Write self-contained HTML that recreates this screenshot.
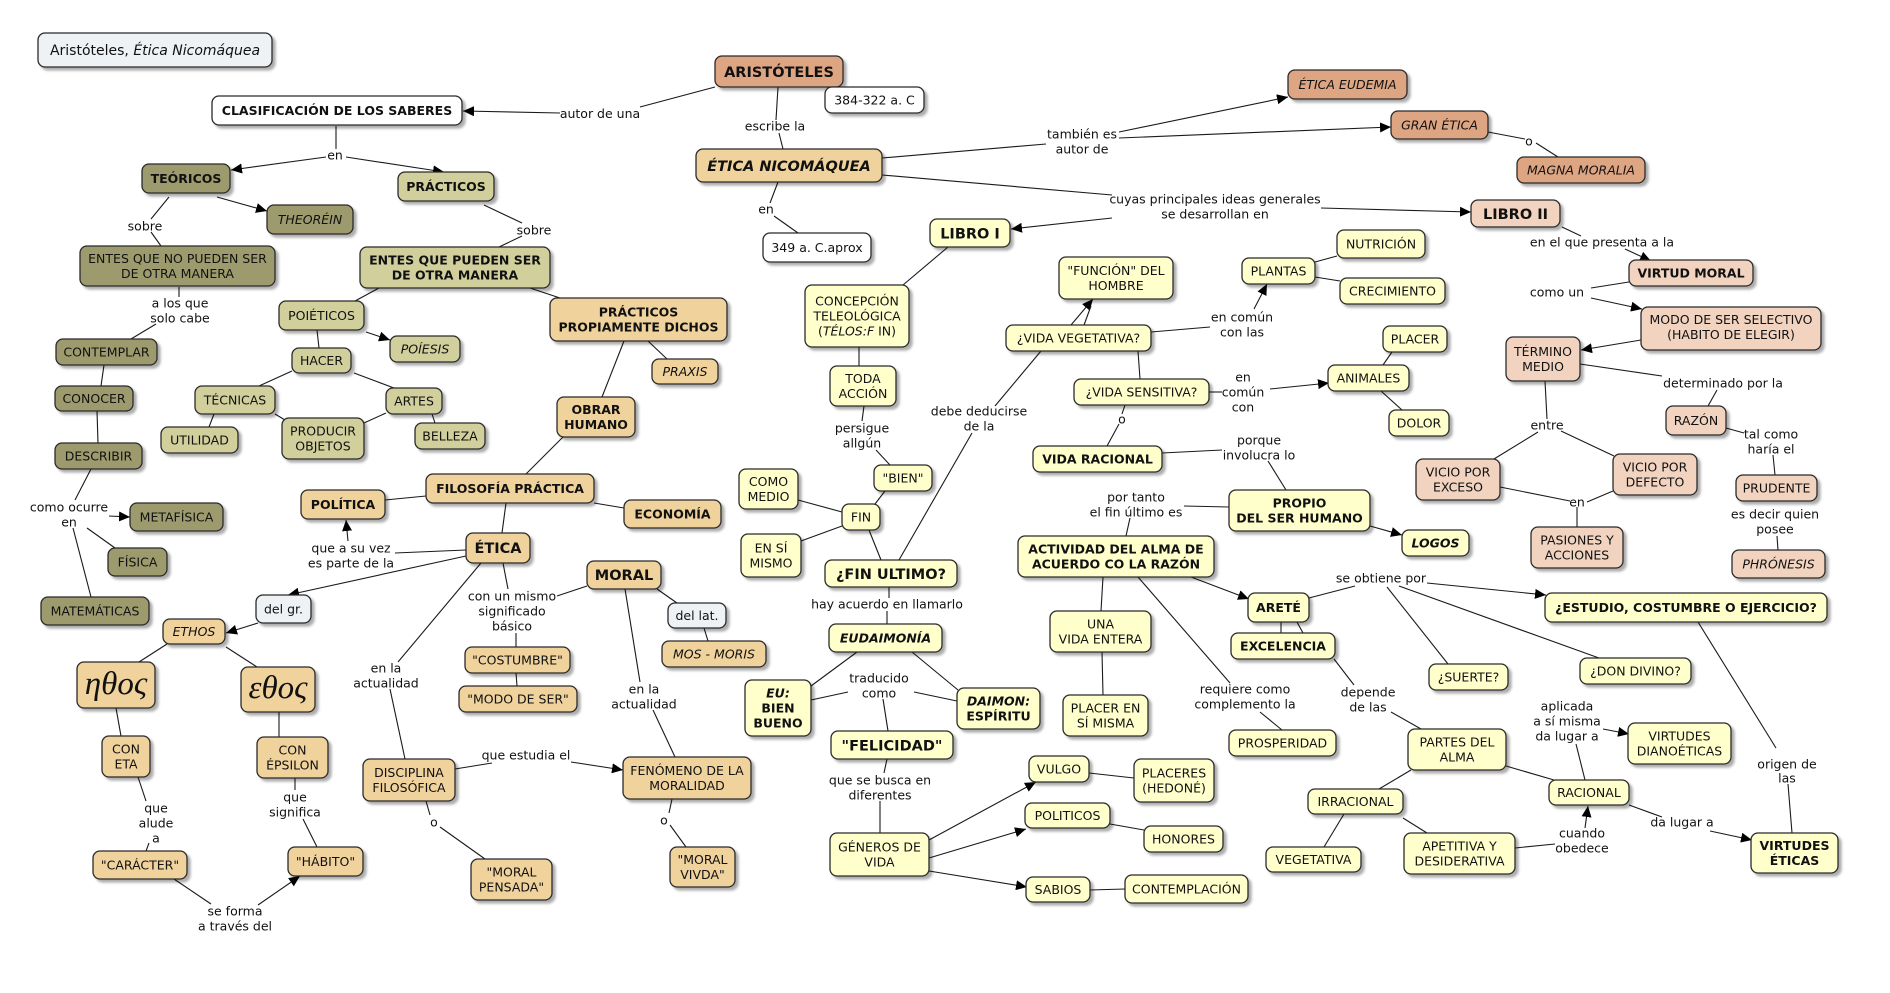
<!DOCTYPE html>
<html><head><meta charset="utf-8">
<style>
html,body{margin:0;padding:0;background:#fff;}
svg{display:block;}
text{font-family:"DejaVu Sans",Verdana,"Liberation Sans",sans-serif;font-size:12.5px;text-anchor:middle;fill:#111;}
.b{font-weight:bold;}
.i{font-style:italic;}
.L{font-size:14.5px;}
.g{font-family:"Liberation Serif","DejaVu Serif",serif;font-style:italic;font-size:33px;}
rect{stroke:#2a2a2a;stroke-width:1.3;}
.dol{fill:#9d9b6d}.lol{fill:#d1d09c}.tan{fill:#f0d29c}.sal{fill:#dea583}.lsa{fill:#f1d3bf}.yel{fill:#ffffcc}.wht{fill:#fff}.gry{fill:#eef2f5}
line{stroke:#1a1a1a;stroke-width:1.1;}
.a{marker-end:url(#ar);}
</style></head><body>
<svg width="1890" height="993" viewBox="0 0 1890 993" xmlns="http://www.w3.org/2000/svg">
<defs>
<filter id="sh" x="-10%" y="-20%" width="130%" height="160%"><feDropShadow dx="3" dy="3" stdDeviation="1.3" flood-color="#000" flood-opacity="0.32"/></filter>
<marker id="ar" markerUnits="userSpaceOnUse" markerWidth="12" markerHeight="10" refX="11" refY="5" orient="auto"><path d="M0,0 L11,5 L0,10 z" fill="#000"/></marker>
</defs>

<!-- connectors -->
<g>
<line x1="715" y1="87" x2="640" y2="107"/>
<line class="a" x1="560" y1="113" x2="463" y2="111"/>
<line x1="336" y1="126" x2="336" y2="149"/>
<line class="a" x1="326" y1="157" x2="231" y2="170"/>
<line class="a" x1="346" y1="157" x2="444" y2="172"/>
<line class="a" x1="217" y1="197" x2="267" y2="211"/>
<line x1="169" y1="197" x2="151" y2="219"/>
<line x1="151" y1="232" x2="161" y2="246"/>
<line x1="484" y1="205" x2="522" y2="223"/>
<line x1="522" y1="236" x2="499" y2="247"/>
<line x1="179" y1="287" x2="179" y2="297"/>
<line x1="156" y1="324" x2="131" y2="339"/>
<line x1="379" y1="288" x2="355" y2="301"/>
<line x1="530" y1="288" x2="560" y2="298"/>
<line class="a" x1="366" y1="332" x2="390" y2="340"/>
<line x1="317" y1="330" x2="319" y2="348"/>
<line x1="292" y1="371" x2="259" y2="386"/>
<line x1="354" y1="373" x2="394" y2="388"/>
<line x1="214" y1="414" x2="209" y2="427"/>
<line x1="275" y1="414" x2="285" y2="420"/>
<line x1="386" y1="413" x2="364" y2="423"/>
<line x1="432" y1="414" x2="435" y2="423"/>
<line x1="104" y1="365" x2="101" y2="386"/>
<line x1="97" y1="411" x2="98" y2="443"/>
<line x1="91" y1="469" x2="75" y2="500"/>
<line class="a" x1="109" y1="516" x2="130" y2="517"/>
<line x1="87" y1="528" x2="115" y2="548"/>
<line x1="73" y1="528" x2="91" y2="597"/>
<line x1="624" y1="341" x2="602" y2="397"/>
<line x1="648" y1="341" x2="667" y2="359"/>
<line x1="563" y1="437" x2="526" y2="474"/>
<line x1="426" y1="496" x2="385" y2="500"/>
<line x1="594" y1="503" x2="624" y2="508"/>
<line x1="506" y1="503" x2="502" y2="533"/>
<line x1="466" y1="550" x2="395" y2="553"/>
<line class="a" x1="348" y1="541" x2="346" y2="520"/>
<line class="a" x1="466" y1="556" x2="288" y2="595"/>
<line class="a" x1="258" y1="623" x2="226" y2="633"/>
<line x1="167" y1="644" x2="139" y2="662"/>
<line x1="226" y1="647" x2="257" y2="667"/>
<line x1="116" y1="708" x2="121" y2="736"/>
<line x1="279" y1="712" x2="279" y2="737"/>
<line x1="138" y1="777" x2="146" y2="801"/>
<line x1="149" y1="843" x2="146" y2="851"/>
<line x1="295" y1="778" x2="295" y2="790"/>
<line x1="303" y1="819" x2="317" y2="847"/>
<line x1="174" y1="879" x2="211" y2="904"/>
<line class="a" x1="258" y1="905" x2="300" y2="876"/>
<line x1="481" y1="563" x2="398" y2="662"/>
<line x1="390" y1="689" x2="405" y2="759"/>
<line x1="503" y1="563" x2="508" y2="589"/>
<line x1="587" y1="586" x2="557" y2="596"/>
<line x1="516" y1="633" x2="516" y2="647"/>
<line x1="516" y1="673" x2="517" y2="686"/>
<line x1="455" y1="769" x2="492" y2="763"/>
<line class="a" x1="571" y1="762" x2="623" y2="770"/>
<line x1="426" y1="801" x2="430" y2="815"/>
<line x1="440" y1="827" x2="485" y2="859"/>
<line x1="625" y1="589" x2="640" y2="682"/>
<line x1="653" y1="710" x2="675" y2="757"/>
<line x1="672" y1="799" x2="669" y2="813"/>
<line x1="670" y1="825" x2="686" y2="847"/>
<line x1="657" y1="589" x2="677" y2="603"/>
<line x1="704" y1="628" x2="708" y2="641"/>
<line x1="778" y1="87" x2="776" y2="120"/>
<line x1="779" y1="133" x2="783" y2="149"/>
<line x1="778" y1="182" x2="770" y2="203"/>
<line x1="774" y1="216" x2="798" y2="233"/>
<line x1="882" y1="158" x2="1046" y2="144"/>
<line class="a" x1="1119" y1="132" x2="1288" y2="97"/>
<line class="a" x1="1119" y1="138" x2="1391" y2="127"/>
<line x1="1488" y1="132" x2="1525" y2="139"/>
<line x1="1536" y1="143" x2="1558" y2="157"/>
<line x1="882" y1="175" x2="1112" y2="195"/>
<line class="a" x1="1112" y1="218" x2="1011" y2="229"/>
<line class="a" x1="1321" y1="208" x2="1471" y2="212"/>
<line x1="1562" y1="227" x2="1581" y2="236"/>
<line class="a" x1="1625" y1="249" x2="1651" y2="261"/>
<line x1="1629" y1="282" x2="1591" y2="288"/>
<line class="a" x1="1591" y1="298" x2="1642" y2="309"/>
<line class="a" x1="1641" y1="340" x2="1581" y2="350"/>
<line x1="1580" y1="364" x2="1662" y2="376"/>
<line x1="1717" y1="390" x2="1708" y2="406"/>
<line x1="1726" y1="428" x2="1744" y2="433"/>
<line x1="1773" y1="455" x2="1775" y2="475"/>
<line x1="1777" y1="536" x2="1778" y2="550"/>
<line x1="1545" y1="381" x2="1547" y2="419"/>
<line x1="1538" y1="432" x2="1494" y2="459"/>
<line x1="1561" y1="431" x2="1614" y2="456"/>
<line x1="1500" y1="487" x2="1570" y2="501"/>
<line x1="1613" y1="491" x2="1587" y2="502"/>
<line x1="1577" y1="507" x2="1577" y2="527"/>
<line x1="948" y1="247" x2="903" y2="285"/>
<line x1="859" y1="347" x2="859" y2="366"/>
<line x1="864" y1="406" x2="862" y2="421"/>
<line x1="876" y1="450" x2="890" y2="465"/>
<line x1="885" y1="491" x2="875" y2="504"/>
<line x1="842" y1="512" x2="798" y2="500"/>
<line x1="842" y1="526" x2="801" y2="541"/>
<line x1="869" y1="530" x2="881" y2="560"/>
<line x1="1041" y1="351" x2="995" y2="406"/>
<line x1="972" y1="433" x2="899" y2="560"/>
<line x1="889" y1="587" x2="889" y2="598"/>
<line x1="887" y1="611" x2="887" y2="624"/>
<line x1="857" y1="652" x2="811" y2="686"/>
<line x1="912" y1="652" x2="958" y2="690"/>
<line x1="848" y1="692" x2="811" y2="700"/>
<line x1="914" y1="692" x2="957" y2="701"/>
<line x1="883" y1="699" x2="888" y2="731"/>
<line x1="887" y1="759" x2="884" y2="773"/>
<line x1="880" y1="801" x2="880" y2="833"/>
<line class="a" x1="929" y1="840" x2="1036" y2="782"/>
<line class="a" x1="929" y1="858" x2="1026" y2="829"/>
<line class="a" x1="929" y1="871" x2="1027" y2="887"/>
<line x1="1089" y1="773" x2="1134" y2="778"/>
<line x1="1110" y1="824" x2="1144" y2="830"/>
<line x1="1090" y1="890" x2="1125" y2="889"/>
<line class="a" x1="1071" y1="325" x2="1093" y2="299"/>
<line x1="1084" y1="325" x2="1091" y2="306"/>
<line x1="1151" y1="332" x2="1210" y2="327"/>
<line class="a" x1="1254" y1="309" x2="1267" y2="284"/>
<line x1="1315" y1="262" x2="1337" y2="256"/>
<line x1="1315" y1="277" x2="1340" y2="281"/>
<line x1="1138" y1="351" x2="1140" y2="379"/>
<line x1="1209" y1="392" x2="1222" y2="392"/>
<line class="a" x1="1270" y1="389" x2="1329" y2="383"/>
<line x1="1383" y1="365" x2="1392" y2="352"/>
<line x1="1381" y1="391" x2="1402" y2="410"/>
<line x1="1125" y1="405" x2="1122" y2="414"/>
<line x1="1119" y1="424" x2="1107" y2="446"/>
<line x1="1162" y1="453" x2="1222" y2="450"/>
<line x1="1268" y1="461" x2="1286" y2="490"/>
<line x1="1184" y1="506" x2="1229" y2="507"/>
<line x1="1130" y1="518" x2="1126" y2="536"/>
<line class="a" x1="1370" y1="526" x2="1402" y2="535"/>
<line class="a" x1="1191" y1="577" x2="1249" y2="599"/>
<line x1="1103" y1="577" x2="1101" y2="611"/>
<line x1="1102" y1="652" x2="1103" y2="695"/>
<line x1="1138" y1="577" x2="1230" y2="683"/>
<line x1="1260" y1="712" x2="1282" y2="730"/>
<line x1="1309" y1="598" x2="1355" y2="586"/>
<line class="a" x1="1427" y1="583" x2="1546" y2="595"/>
<line x1="1387" y1="587" x2="1448" y2="664"/>
<line x1="1399" y1="586" x2="1599" y2="658"/>
<line x1="1281" y1="622" x2="1281" y2="633"/>
<line x1="1297" y1="622" x2="1303" y2="633"/>
<line x1="1334" y1="659" x2="1354" y2="685"/>
<line x1="1391" y1="712" x2="1421" y2="729"/>
<line x1="1411" y1="770" x2="1379" y2="789"/>
<line x1="1506" y1="766" x2="1554" y2="780"/>
<line x1="1344" y1="814" x2="1324" y2="847"/>
<line x1="1403" y1="818" x2="1427" y2="833"/>
<line x1="1515" y1="848" x2="1555" y2="844"/>
<line class="a" x1="1585" y1="828" x2="1588" y2="806"/>
<line x1="1585" y1="780" x2="1576" y2="744"/>
<line class="a" x1="1603" y1="729" x2="1629" y2="734"/>
<line x1="1629" y1="805" x2="1662" y2="817"/>
<line class="a" x1="1710" y1="831" x2="1752" y2="840"/>
<line x1="1698" y1="622" x2="1776" y2="748"/>
<line x1="1788" y1="784" x2="1792" y2="833"/>
</g>

<!-- link labels -->
<g>
<text x="600" y="118">autor de una</text>
<text x="335" y="159.5">en</text>
<text x="145" y="230.5">sobre</text>
<text x="534" y="234.5">sobre</text>
<text x="180" y="307.5">a los que</text><text x="180" y="322.5">solo cabe</text>
<text x="69" y="511.5">como ocurre</text><text x="69" y="526.5">en</text>
<text x="351" y="552.5">que a su vez</text><text x="351" y="567.5">es parte de la</text>
<text x="512" y="600.5">con un mismo</text><text x="512" y="615.5">significado</text><text x="512" y="630.5">básico</text>
<text x="386" y="672.5">en la</text><text x="386" y="687.5">actualidad</text>
<text x="644" y="693.5">en la</text><text x="644" y="708.5">actualidad</text>
<text x="526" y="759.5">que estudia el</text>
<text x="434" y="826.5">o</text>
<text x="664" y="824.5">o</text>
<text x="156" y="812.5">que</text><text x="156" y="827.5">alude</text><text x="156" y="842.5">a</text>
<text x="295" y="801.5">que</text><text x="295" y="816.5">significa</text>
<text x="235" y="915.5">se forma</text><text x="235" y="930.5">a través del</text>
<text x="775" y="130.5">escribe la</text>
<text x="766" y="213.5">en</text>
<text x="1082" y="138.5">también es</text><text x="1082" y="153.5">autor de</text>
<text x="1215" y="203.5">cuyas principales ideas generales</text><text x="1215" y="218.5">se desarrollan en</text>
<text x="1529" y="145.5">o</text>
<text x="1602" y="246.5">en el que presenta a la</text>
<text x="1557" y="296.5">como un</text>
<text x="862" y="432.5">persigue</text><text x="862" y="447.5">allgún</text>
<text x="979" y="415.5">debe deducirse</text><text x="979" y="430.5">de la</text>
<text x="887" y="608.5">hay acuerdo en llamarlo</text>
<text x="879" y="682.5">traducido</text><text x="879" y="697.5">como</text>
<text x="880" y="784.5">que se busca en</text><text x="880" y="799.5">diferentes</text>
<text x="1242" y="321.5">en común</text><text x="1242" y="336.5">con las</text>
<text x="1243" y="381.5">en</text><text x="1243" y="396.5">común</text><text x="1243" y="411.5">con</text>
<text x="1122" y="423.5">o</text>
<text x="1259" y="444.5">porque</text><text x="1259" y="459.5">involucra lo</text>
<text x="1136" y="501.5">por tanto</text><text x="1136" y="516.5">el fin último es</text>
<text x="1245" y="693.5">requiere como</text><text x="1245" y="708.5">complemento la</text>
<text x="1381" y="582.5">se obtiene por</text>
<text x="1368" y="696.5">depende</text><text x="1368" y="711.5">de las</text>
<text x="1567" y="710.5">aplicada</text><text x="1567" y="725.5">a sí misma</text><text x="1567" y="740.5">da lugar a</text>
<text x="1582" y="837.5">cuando</text><text x="1582" y="852.5">obedece</text>
<text x="1682" y="826.5">da lugar a</text>
<text x="1787" y="768.5">origen de</text><text x="1787" y="782.5">las</text>
<text x="1547" y="429.5">entre</text>
<text x="1577" y="506.5">en</text>
<text x="1723" y="387.5">determinado por la</text>
<text x="1771" y="438.5">tal como</text><text x="1771" y="453.5">haría el</text>
<text x="1775" y="518.5">es decir quien</text><text x="1775" y="533.5">posee</text>
</g>

<!-- nodes -->
<g filter="url(#sh)">
<rect class="gry" x="38" y="33" width="234" height="34" rx="7"/>
<rect class="wht" x="212" y="96" width="250" height="29" rx="7"/>
<rect class="sal" x="715" y="56" width="128" height="31" rx="7"/>
<rect class="wht" x="825" y="87" width="99" height="26" rx="7"/>
<rect class="tan" x="696" y="149" width="186" height="33" rx="7"/>
<rect class="wht" x="763" y="233" width="108" height="29" rx="7"/>
<rect class="sal" x="1288" y="70" width="119" height="29" rx="7"/>
<rect class="sal" x="1391" y="111" width="97" height="28" rx="7"/>
<rect class="sal" x="1517" y="157" width="128" height="26" rx="7"/>
<rect class="lsa" x="1471" y="200" width="89" height="27" rx="7"/>
<rect class="yel" x="930" y="219" width="80" height="28" rx="7"/>
<rect class="lsa" x="1629" y="260" width="124" height="26" rx="7"/>
<rect class="lsa" x="1641" y="307" width="180" height="43" rx="7"/>
<rect class="lsa" x="1506" y="337" width="74" height="44" rx="7"/>
<rect class="lsa" x="1666" y="406" width="60" height="29" rx="7"/>
<rect class="lsa" x="1736" y="475" width="81" height="26" rx="7"/>
<rect class="lsa" x="1732" y="550" width="93" height="28" rx="7"/>
<rect class="lsa" x="1416" y="459" width="84" height="41" rx="7"/>
<rect class="lsa" x="1613" y="454" width="84" height="41" rx="7"/>
<rect class="lsa" x="1531" y="527" width="92" height="41" rx="7"/>
<rect class="dol" x="142" y="164" width="88" height="29" rx="7"/>
<rect class="lol" x="398" y="172" width="96" height="29" rx="7"/>
<rect class="dol" x="267" y="205" width="86" height="29" rx="7"/>
<rect class="dol" x="80" y="246" width="195" height="40" rx="7"/>
<rect class="lol" x="360" y="247" width="190" height="41" rx="7"/>
<rect class="lol" x="279" y="301" width="85" height="29" rx="7"/>
<rect class="tan" x="550" y="298" width="177" height="43" rx="7"/>
<rect class="dol" x="56" y="339" width="101" height="26" rx="7"/>
<rect class="dol" x="55" y="386" width="78" height="25" rx="7"/>
<rect class="dol" x="55" y="443" width="87" height="26" rx="7"/>
<rect class="dol" x="130" y="503" width="93" height="28" rx="7"/>
<rect class="dol" x="108" y="548" width="59" height="28" rx="7"/>
<rect class="dol" x="41" y="597" width="108" height="28" rx="7"/>
<rect class="lol" x="292" y="348" width="59" height="25" rx="7"/>
<rect class="lol" x="390" y="336" width="70" height="26" rx="7"/>
<rect class="lol" x="195" y="386" width="80" height="28" rx="7"/>
<rect class="lol" x="386" y="388" width="56" height="26" rx="7"/>
<rect class="lol" x="161" y="427" width="77" height="26" rx="7"/>
<rect class="lol" x="282" y="418" width="82" height="41" rx="7"/>
<rect class="lol" x="415" y="423" width="70" height="26" rx="7"/>
<rect class="tan" x="557" y="397" width="78" height="40" rx="7"/>
<rect class="tan" x="652" y="359" width="66" height="25" rx="7"/>
<rect class="tan" x="426" y="474" width="168" height="29" rx="7"/>
<rect class="tan" x="301" y="490" width="84" height="29" rx="7"/>
<rect class="tan" x="624" y="500" width="97" height="28" rx="7"/>
<rect class="tan" x="466" y="533" width="64" height="30" rx="7"/>
<rect class="tan" x="587" y="561" width="74" height="28" rx="7"/>
<rect class="gry" x="256" y="595" width="55" height="28" rx="7"/>
<rect class="tan" x="163" y="619" width="62" height="25" rx="7"/>
<rect class="tan" x="77" y="662" width="78" height="46" rx="7"/>
<rect class="tan" x="241" y="667" width="74" height="45" rx="7"/>
<rect class="tan" x="102" y="736" width="48" height="41" rx="7"/>
<rect class="tan" x="257" y="737" width="71" height="41" rx="7"/>
<rect class="tan" x="93" y="851" width="94" height="28" rx="7"/>
<rect class="tan" x="288" y="847" width="75" height="29" rx="7"/>
<rect class="tan" x="465" y="647" width="105" height="26" rx="7"/>
<rect class="tan" x="459" y="686" width="118" height="26" rx="7"/>
<rect class="tan" x="363" y="759" width="92" height="42" rx="7"/>
<rect class="tan" x="471" y="859" width="81" height="41" rx="7"/>
<rect class="tan" x="623" y="757" width="128" height="42" rx="7"/>
<rect class="tan" x="670" y="847" width="65" height="40" rx="7"/>
<rect class="gry" x="668" y="603" width="58" height="25" rx="7"/>
<rect class="tan" x="662" y="641" width="104" height="26" rx="7"/>
<rect class="yel" x="805" y="285" width="104" height="62" rx="7"/>
<rect class="yel" x="830" y="366" width="66" height="40" rx="7"/>
<rect class="yel" x="874" y="465" width="58" height="26" rx="7"/>
<rect class="yel" x="842" y="504" width="38" height="26" rx="7"/>
<rect class="yel" x="739" y="469" width="59" height="40" rx="7"/>
<rect class="yel" x="741" y="534" width="60" height="43" rx="7"/>
<rect class="yel" x="825" y="560" width="132" height="27" rx="7"/>
<rect class="yel" x="829" y="624" width="113" height="28" rx="7"/>
<rect class="yel" x="745" y="680" width="66" height="56" rx="7"/>
<rect class="yel" x="957" y="688" width="83" height="41" rx="7"/>
<rect class="yel" x="831" y="731" width="122" height="28" rx="7"/>
<rect class="yel" x="830" y="833" width="99" height="43" rx="7"/>
<rect class="yel" x="1029" y="756" width="60" height="26" rx="7"/>
<rect class="yel" x="1025" y="803" width="85" height="25" rx="7"/>
<rect class="yel" x="1026" y="877" width="64" height="25" rx="7"/>
<rect class="yel" x="1134" y="759" width="80" height="43" rx="7"/>
<rect class="yel" x="1144" y="826" width="79" height="26" rx="7"/>
<rect class="yel" x="1125" y="875" width="123" height="28" rx="7"/>
<rect class="yel" x="1059" y="257" width="114" height="42" rx="7"/>
<rect class="yel" x="1006" y="325" width="145" height="26" rx="7"/>
<rect class="yel" x="1074" y="379" width="135" height="26" rx="7"/>
<rect class="yel" x="1033" y="446" width="129" height="26" rx="7"/>
<rect class="yel" x="1242" y="258" width="73" height="26" rx="7"/>
<rect class="yel" x="1337" y="230" width="88" height="28" rx="7"/>
<rect class="yel" x="1340" y="278" width="105" height="26" rx="7"/>
<rect class="yel" x="1383" y="326" width="64" height="26" rx="7"/>
<rect class="yel" x="1328" y="365" width="81" height="26" rx="7"/>
<rect class="yel" x="1389" y="410" width="60" height="26" rx="7"/>
<rect class="yel" x="1229" y="490" width="141" height="41" rx="7"/>
<rect class="yel" x="1402" y="530" width="67" height="26" rx="7"/>
<rect class="yel" x="1018" y="536" width="196" height="41" rx="7"/>
<rect class="yel" x="1050" y="611" width="101" height="41" rx="7"/>
<rect class="yel" x="1063" y="695" width="85" height="41" rx="7"/>
<rect class="yel" x="1248" y="593" width="61" height="29" rx="7"/>
<rect class="yel" x="1231" y="633" width="104" height="26" rx="7"/>
<rect class="yel" x="1229" y="730" width="107" height="26" rx="7"/>
<rect class="yel" x="1545" y="593" width="282" height="29" rx="7"/>
<rect class="yel" x="1429" y="664" width="79" height="26" rx="7"/>
<rect class="yel" x="1580" y="658" width="111" height="26" rx="7"/>
<rect class="yel" x="1408" y="729" width="98" height="41" rx="7"/>
<rect class="yel" x="1308" y="789" width="95" height="25" rx="7"/>
<rect class="yel" x="1549" y="780" width="80" height="25" rx="7"/>
<rect class="yel" x="1266" y="847" width="95" height="25" rx="7"/>
<rect class="yel" x="1404" y="833" width="111" height="41" rx="7"/>
<rect class="yel" x="1628" y="723" width="103" height="41" rx="7"/>
<rect class="yel" x="1751" y="833" width="87" height="40" rx="7"/>
</g>

<!-- node text -->
<g>
<text x="155" y="55" style="font-size:14px">Aristóteles, <tspan class="i">Ética Nicomáquea</tspan></text>
<text class="b" x="337" y="115">CLASIFICACIÓN DE LOS SABERES</text>
<text class="b L" x="779" y="77">ARISTÓTELES</text>
<text x="874.5" y="104.5">384-322 a. C</text>
<text class="b i L" x="789" y="171">ÉTICA NICOMÁQUEA</text>
<text x="817" y="252">349 a. C.aprox</text>
<text class="i" x="1347.5" y="89">ÉTICA EUDEMIA</text>
<text class="i" x="1439.5" y="129.5">GRAN ÉTICA</text>
<text class="i" x="1581" y="174.5">MAGNA MORALIA</text>
<text class="b L" x="1515.5" y="219">LIBRO II</text>
<text class="b L" x="970" y="238.5">LIBRO I</text>
<text class="b" x="1691" y="277.5">VIRTUD MORAL</text>
<text x="1731" y="324">MODO DE SER SELECTIVO</text><text x="1731" y="339">(HABITO DE ELEGIR)</text>
<text x="1543" y="356">TÉRMINO</text><text x="1543" y="371">MEDIO</text>
<text x="1696" y="425">RAZÓN</text>
<text x="1776.5" y="492.5">PRUDENTE</text>
<text class="i" x="1778.5" y="568.5">PHRÓNESIS</text>
<text x="1458" y="476.5">VICIO POR</text><text x="1458" y="491.5">EXCESO</text>
<text x="1655" y="471.5">VICIO POR</text><text x="1655" y="486.5">DEFECTO</text>
<text x="1577" y="544.5">PASIONES Y</text><text x="1577" y="559.5">ACCIONES</text>
<text class="b" x="186" y="183">TEÓRICOS</text>
<text class="b" x="446" y="191">PRÁCTICOS</text>
<text class="i" x="310" y="224">THEORÉIN</text>
<text x="177.5" y="263">ENTES QUE NO PUEDEN SER</text><text x="177.5" y="278">DE OTRA MANERA</text>
<text class="b" x="455" y="264.5">ENTES QUE PUEDEN SER</text><text class="b" x="455" y="279.5">DE OTRA MANERA</text>
<text x="321.5" y="320">POIÉTICOS</text>
<text class="b" x="638.5" y="316.5">PRÁCTICOS</text><text class="b" x="638.5" y="331.5">PROPIAMENTE DICHOS</text>
<text x="106.5" y="356.5">CONTEMPLAR</text>
<text x="94" y="403">CONOCER</text>
<text x="98.5" y="460.5">DESCRIBIR</text>
<text x="176.5" y="521.5">METAFÍSICA</text>
<text x="137.5" y="566.5">FÍSICA</text>
<text x="95" y="615.5">MATEMÁTICAS</text>
<text x="321.5" y="365">HACER</text>
<text class="i" x="425" y="353.5">POÍESIS</text>
<text x="235" y="404.5">TÉCNICAS</text>
<text x="414" y="405.5">ARTES</text>
<text x="199.5" y="444.5">UTILIDAD</text>
<text x="323" y="435.5">PRODUCIR</text><text x="323" y="450.5">OBJETOS</text>
<text x="450" y="440.5">BELLEZA</text>
<text class="b" x="596" y="414">OBRAR</text><text class="b" x="596" y="429">HUMANO</text>
<text class="i" x="685" y="376">PRAXIS</text>
<text class="b" x="510" y="493">FILOSOFÍA PRÁCTICA</text>
<text class="b" x="343" y="509">POLÍTICA</text>
<text class="b" x="672.5" y="518.5">ECONOMÍA</text>
<text class="b L" x="498" y="553.2">ÉTICA</text>
<text class="b L" x="624" y="580">MORAL</text>
<text x="283.5" y="613.5">del gr.</text>
<text class="i" x="194" y="636">ETHOS</text>
<text class="g" x="116" y="694">ηθος</text>
<text class="g" x="278" y="698">εθος</text>
<text x="126" y="753.5">CON</text><text x="126" y="768.5">ETA</text>
<text x="292.5" y="754.5">CON</text><text x="292.5" y="769.5">ÉPSILON</text>
<text x="140" y="869.5">"CARÁCTER"</text>
<text x="325.5" y="866">"HÁBITO"</text>
<text x="517.5" y="664.5">"COSTUMBRE"</text>
<text x="518" y="703.5">"MODO DE SER"</text>
<text x="409" y="777">DISCIPLINA</text><text x="409" y="792">FILOSÓFICA</text>
<text x="511.5" y="876.5">"MORAL</text><text x="511.5" y="891.5">PENSADA"</text>
<text x="687" y="775">FENÓMENO DE LA</text><text x="687" y="790">MORALIDAD</text>
<text x="702.5" y="864">"MORAL</text><text x="702.5" y="879">VIVDA"</text>
<text x="697" y="620">del lat.</text>
<text class="i" x="714" y="658.5">MOS - MORIS</text>
<text x="857" y="305.5">CONCEPCIÓN</text><text x="857" y="320.5">TELEOLÓGICA</text><text x="857" y="335.5">(<tspan class="i">TÉLOS:F</tspan> IN)</text>
<text x="863" y="383">TODA</text><text x="863" y="398">ACCIÓN</text>
<text x="903" y="482.5">"BIEN"</text>
<text x="861" y="521.5">FIN</text>
<text x="768.5" y="486">COMO</text><text x="768.5" y="501">MEDIO</text>
<text x="771" y="552.5">EN SÍ</text><text x="771" y="567.5">MISMO</text>
<text class="b L" x="891" y="579">¿FIN ULTIMO?</text>
<text class="b i" x="885.5" y="642.5">EUDAIMONÍA</text>
<text class="b i" x="778" y="697.5">EU:</text><text class="b" x="778" y="712.5">BIEN</text><text class="b" x="778" y="727.5">BUENO</text>
<text class="b i" x="998.5" y="705.5">DAIMON:</text><text class="b" x="998.5" y="720.5">ESPÍRITU</text>
<text class="b L" x="892" y="750.5">"FELICIDAD"</text>
<text x="879.5" y="851.5">GÉNEROS DE</text><text x="879.5" y="866.5">VIDA</text>
<text x="1059" y="773.5">VULGO</text>
<text x="1067.5" y="820">POLITICOS</text>
<text x="1058" y="894">SABIOS</text>
<text x="1174" y="777.5">PLACERES</text><text x="1174" y="792.5">(HEDONÉ)</text>
<text x="1183.5" y="843.5">HONORES</text>
<text x="1186.5" y="893.5">CONTEMPLACIÓN</text>
<text x="1116" y="275">"FUNCIÓN" DEL</text><text x="1116" y="290">HOMBRE</text>
<text x="1078.5" y="342.5">¿VIDA VEGETATIVA?</text>
<text x="1141.5" y="396.5">¿VIDA SENSITIVA?</text>
<text class="b" x="1097.5" y="463.5">VIDA RACIONAL</text>
<text x="1278.5" y="275.5">PLANTAS</text>
<text x="1381" y="248.5">NUTRICIÓN</text>
<text x="1392.5" y="295.5">CRECIMIENTO</text>
<text x="1415" y="343.5">PLACER</text>
<text x="1368.5" y="382.5">ANIMALES</text>
<text x="1419" y="427.5">DOLOR</text>
<text class="b" x="1299.5" y="507.5">PROPIO</text><text class="b" x="1299.5" y="522.5">DEL SER HUMANO</text>
<text class="b i" x="1435.5" y="547.5">LOGOS</text>
<text class="b" x="1116" y="553.5">ACTIVIDAD DEL ALMA DE</text><text class="b" x="1116" y="568.5">ACUERDO CO LA RAZÓN</text>
<text x="1100.5" y="628.5">UNA</text><text x="1100.5" y="643.5">VIDA ENTERA</text>
<text x="1105.5" y="712.5">PLACER EN</text><text x="1105.5" y="727.5">SÍ MISMA</text>
<text class="b" x="1278.5" y="612">ARETÉ</text>
<text class="b" x="1283" y="650.5">EXCELENCIA</text>
<text x="1282.5" y="747.5">PROSPERIDAD</text>
<text class="b" x="1686" y="612">¿ESTUDIO, COSTUMBRE O EJERCICIO?</text>
<text x="1468.5" y="681.5">¿SUERTE?</text>
<text x="1635.5" y="675.5">¿DON DIVINO?</text>
<text x="1457" y="746.5">PARTES DEL</text><text x="1457" y="761.5">ALMA</text>
<text x="1355.5" y="806">IRRACIONAL</text>
<text x="1589" y="797">RACIONAL</text>
<text x="1313.5" y="864">VEGETATIVA</text>
<text x="1459.5" y="850.5">APETITIVA Y</text><text x="1459.5" y="865.5">DESIDERATIVA</text>
<text x="1679.5" y="740.5">VIRTUDES</text><text x="1679.5" y="755.5">DIANOÉTICAS</text>
<text class="b" x="1794.5" y="850">VIRTUDES</text><text class="b" x="1794.5" y="865">ÉTICAS</text>
</g>
</svg>
</body></html>
